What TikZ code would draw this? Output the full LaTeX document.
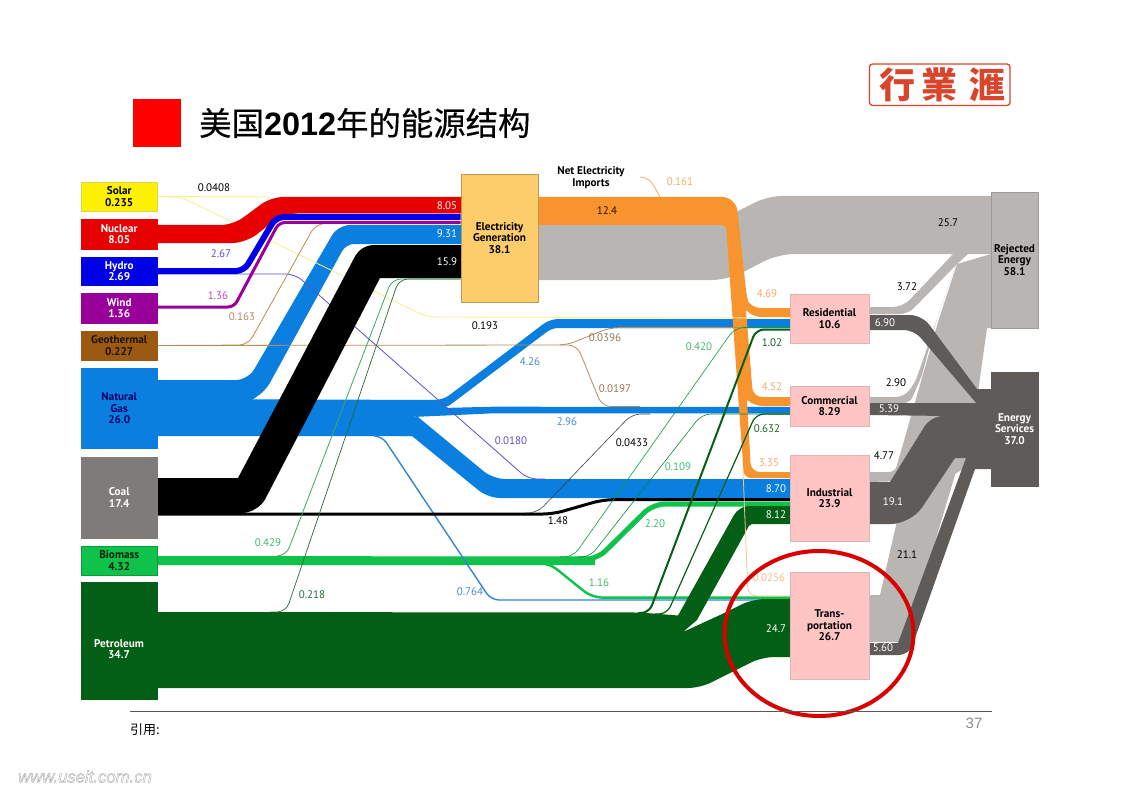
\documentclass[tikz,border=0pt]{standalone}
\usepackage{fontspec}
\setmainfont{PT Sans}
\newfontfamily\cjk{Noto Sans CJK SC}
\newfontfamily\cjktitle[FakeBold=0.4]{Noto Sans CJK SC}
\newfontfamily\cjktc{Noto Sans CJK TC}
\newfontfamily\numfont{Liberation Sans}
\definecolor{cgray}{HTML}{B9B5B2}
\definecolor{cdark}{HTML}{5F5B58}
\definecolor{corange}{HTML}{F7942D}
\definecolor{cblue}{HTML}{0A7FE0}
\definecolor{cgreen}{HTML}{0EC24A}
\definecolor{cpet}{HTML}{045F16}
\definecolor{cred}{HTML}{E60000}
\definecolor{chydro}{HTML}{0000E6}
\definecolor{cwind}{HTML}{990099}
\definecolor{cgeo}{HTML}{9B5A12}
\definecolor{ccoal}{HTML}{7F7B78}
\definecolor{celec}{HTML}{FDCC6B}
\definecolor{cpink}{HTML}{FFC5C5}
\definecolor{cyel}{HTML}{F4F08A}
\definecolor{chthin}{HTML}{5B50C8}
\definecolor{lbrown}{HTML}{B08A60}
\definecolor{lorange}{HTML}{F0AD68}
\definecolor{lgreen}{HTML}{40BC6C}
\definecolor{lblue}{HTML}{4A8AD0}
\definecolor{stamp}{HTML}{D9452A}
\tikzset{
  boxn/.style={draw,inner sep=0pt,align=center,font=\fontsize{11.2}{11.4}\selectfont\bfseries,line width=0.6pt},
  vlab/.style={inner sep=0pt,font=\fontsize{11}{12}\selectfont},
  thin1/.style={line width=0.8pt,rounded corners=9pt},
  stampch/.style={inner sep=0pt,text=stamp,font=\fontsize{36}{38}\selectfont\cjktc\bfseries}
}
\begin{document}
\begin{tikzpicture}[x=1pt,y=-1pt]
\useasboundingbox (0,0) rectangle (1123,794);
\fill[white] (0,0) rectangle (1123,794);

% header
\fill[red] (133,99.5) rectangle (180.5,147);
\node[anchor=west,inner sep=0pt,font=\fontsize{32.4}{34}\selectfont\cjktitle] (title) at (199,123) {美国{\numfont\bfseries 2012}年的能源结构};
\draw[stamp,line width=1.3pt,rounded corners=3pt] (869.5,64) rectangle (1010,105.5);
\node[stampch] (st1) at (897,85) {行};
\node[stampch] (st2) at (939,85) {業};
\node[stampch] (st3) at (987,85) {滙};

% boxes are declared first so that flows can start from them
\path
 node[boxn,minimum width=75.5pt,minimum height=29pt,fill=yellow,draw=yellow!70!gray,text=black] (solar) at (119.2,196.5) {Solar\\0.235}
 node[boxn,minimum width=75.5pt,minimum height=30pt,fill=cred,draw=cred,text=white] (nuclear) at (119.2,234) {Nuclear\\8.05}
 node[boxn,minimum width=75.5pt,minimum height=28.5pt,fill=chydro,draw=chydro,text=white] (hydro) at (119.2,271.2) {Hydro\\2.69}
 node[boxn,minimum width=75.5pt,minimum height=30pt,fill=cwind,draw=cwind,text=white] (wind) at (119.2,308) {Wind\\1.36}
 node[boxn,minimum width=75.5pt,minimum height=29pt,fill=cgeo,draw=cgeo,text=black!80!cgeo] (geo) at (119.2,345.5) {Geothermal\\0.227}
 node[boxn,minimum width=75.5pt,minimum height=80.5pt,fill=cblue,draw=cblue,text=blue!40!black] (gas) at (119.2,408.2) {Natural\\Gas\\26.0}
 node[boxn,minimum width=75.5pt,minimum height=81pt,fill=ccoal,draw=ccoal,text=white] (coal) at (119.2,497.5) {Coal\\17.4}
 node[boxn,minimum width=75.5pt,minimum height=29pt,fill=cgreen,draw=cgreen!80!black,text=black!85!cgreen] (bio) at (119.2,560.5) {Biomass\\4.32}
 node[boxn,minimum width=75.5pt,minimum height=116.5pt,fill=cpet,draw=cpet] (pet) at (119.2,640.7) {}
 node[boxn,minimum width=77pt,minimum height=128pt,fill=celec,draw=celec!75!black,text=black] (elec) at (499.5,238) {Electricity\\Generation\\38.1}
 node[boxn,minimum width=79pt,minimum height=49pt,fill=cpink,draw=cpink!75!gray,text=black] (res) at (829.5,318.5) {Residential\\10.6}
 node[boxn,minimum width=79pt,minimum height=40pt,fill=cpink,draw=cpink!75!gray,text=black] (com) at (829.5,406) {Commercial\\8.29}
 node[boxn,minimum width=79pt,minimum height=86pt,fill=cpink,draw=cpink!75!gray,text=black] (ind) at (829.5,498) {Industrial\\23.9}
 node[boxn,minimum width=79pt,minimum height=107pt,fill=cpink,draw=cpink!75!gray,text=black] (tra) at (829.5,625.5) {Trans-\\portation\\26.7}
 node[boxn,minimum width=47pt,minimum height=136pt,fill=cgray,draw=cgray!85!black,text=black] (rej) at (1014.5,260) {Rejected\\Energy\\58.1}
 node[boxn,minimum width=47pt,minimum height=114pt,fill=cdark,draw=cdark,text=white] (srv) at (1014.5,429) {Energy\\Services\\37.0};
\coordinate (imp) at (640,177);

% rejected energy flows
\fill[cgray] (538,225) -- (733,225) -- (738,211) [rounded corners=14pt] -- (768,196) [sharp corners] -- (991,196) -- (991,254) [rounded corners=16pt] -- (778,254) -- (728,280) [sharp corners] -- (538,280) -- cycle;
\fill[cgray] (869,307) [rounded corners=10pt] -- (903,307) [sharp corners] -- (953,254) -- (968,254) -- (957,264) [rounded corners=8pt] -- (908,314) [sharp corners] -- (869,314) -- cycle;
\fill[cgray] (869,397) [rounded corners=8pt] -- (904,397) -- (915,383) [sharp corners] -- (956,264) -- (936,322) -- (922,375) [rounded corners=6pt] -- (910,403) [sharp corners] -- (869,403) -- cycle;
\fill[cgray] (869,472) [rounded corners=6pt] -- (895,472) [sharp corners] -- (938,322) -- (957,264) -- (991,254) -- (991,328) -- (987,328) -- (978,392) -- (978,460) -- (945,480) -- (869,482) -- cycle;
\fill[cgray] (869,595) -- (880,595) -- (950,290) -- (985,330) -- (975,400) -- (960,458) -- (955,475) -- (905,642) -- (869,642) -- cycle;

% energy services flows
\fill[cdark] (869,315) [rounded corners=12pt] -- (922,315) [sharp corners] -- (977,389) -- (991,389) -- (991,404) -- (977,404) [rounded corners=10pt] -- (914,330) [sharp corners] -- (869,330) -- cycle;
\fill[cdark] (869,403) -- (977,403) -- (991,403) -- (991,420) -- (947,416) -- (869,415) -- cycle;
\fill[cdark] (869,482) -- (890,482) [rounded corners=12pt] -- (931,416) [sharp corners] -- (950,416) -- (991,408) -- (991,458) -- (955,458) [rounded corners=20pt] -- (911,524) [sharp corners] -- (869,524) -- cycle;
\fill[cdark] (869,643) -- (898,643) -- (966,458) -- (991,458) -- (991,469) -- (975,469) [rounded corners=10pt] -- (909,655) [sharp corners] -- (869,655) -- cycle;

% natural gas
\fill[cblue] (157,380) [rounded corners=12pt] -- (248,380) -- (338,225) [sharp corners] -- (461,225) -- (461,244) [rounded corners=8pt] -- (346,244) -- (266,390) [sharp corners] -- (252,400) -- (157,400) -- cycle;
\fill[cblue] (157,399) -- (443,400) -- (446,408) -- (413,417) -- (413,436) -- (157,436) -- cycle;
\fill[cblue] (430,400) [rounded corners=8pt] -- (443,400) -- (550,319) [sharp corners] -- (790,319) -- (790,328) [rounded corners=6pt] -- (552,328) -- (446,408) [sharp corners] -- (440,408) -- cycle;
\fill[cblue] (443,408) -- (493,406.7) -- (790,407) -- (790,413.3) -- (493,413.3) -- (413,417) -- cycle;
\fill[cblue] (413,417) -- (418,417) [rounded corners=12pt] -- (493,479) [sharp corners] -- (790,479) -- (790,498) [rounded corners=12pt] -- (488,498) [sharp corners] -- (412,436) -- (400,436) -- cycle;

% orange
\fill[corange] (538,197) [rounded corners=14pt] -- (736,197) [rounded corners=10pt] -- (747,300) -- (750,308) [sharp corners] -- (790,308) -- (790,317) [rounded corners=7pt] -- (754,317) [sharp corners] -- (746,310) [rounded corners=9pt] -- (753,397) [sharp corners] -- (790,397) -- (790,406) [rounded corners=7pt] -- (756,406) [sharp corners] -- (747,400) [rounded corners=9pt] -- (751,472) [sharp corners] -- (790,472) -- (790,478) [rounded corners=7pt] -- (744,478) [rounded corners=4pt] -- (726,225) [sharp corners] -- (538,225) -- cycle;

% thin flows under the coal band
\draw[cyel,line width=0.9pt] (solar.east) -- (270,197);
\draw[cyel,thin1] (solar.east) -- (181,197) -- (427,317) -- (790,318);
\draw[chthin,thin1] (hydro.east |- 0,274) -- (295,274) -- (528,479) -- (545,479);
\draw[cgeo!70!white,thin1] (geo.east) -- (248,345) -- (316,223.5) -- (340,223.5);
\draw[cgeo!70!white,thin1] (geo.east) -- (567,345) -- (610,327.6) -- (790,327.6);
\draw[cgeo!70!white,thin1] (560,345) -- (577,345) -- (602,406.5) -- (640,406.5);

% nuclear, hydro, wind
\fill[cred] (nuclear.east |- 0,225) [rounded corners=12pt] -- (233,225) -- (271,197) [sharp corners] -- (461,197) -- (461,213.5) [rounded corners=14pt] -- (283,213.5) -- (246,243) [sharp corners] -- (nuclear.east |- 0,243) -- cycle;
\draw[cwind,line width=3pt,rounded corners=6pt] (wind.east |- 0,307) -- (234,307) -- (279,222.5) -- (elec.west |- 0,222.5);
\draw[chydro,line width=6pt,rounded corners=8pt] (hydro.east |- 0,271) -- (244,271) -- (276,217) -- (elec.west |- 0,217);

% biomass and petroleum
\fill[cgreen] (157,556) -- (595,556.5) -- (595,565) -- (157,565) -- cycle;
\draw[cgreen,line width=5pt,rounded corners=12pt] (560,559.3) -- (597,559.3) -- (653,504) -- (790,504);
\draw[cgreen,line width=2.4pt,rounded corners=10pt] (535,563) -- (549,563) -- (592,597.6) -- (790,597.6);
\draw[lblue!60!cblue,line width=1.4pt,rounded corners=8pt] (377,436) -- (382,436) -- (491,600) -- (790,600);

\fill[cpet] (157,612) -- (640,612.5) -- (678,615.5) [rounded corners=10pt] -- (739,506) [sharp corners] -- (790,506) -- (790,524) [rounded corners=2pt] -- (750,524) [sharp corners] -- (697,620) -- (683,632) -- (720,615) [rounded corners=12pt] -- (753,599) [sharp corners] -- (790,599) -- (790,657) [rounded corners=12pt] -- (762,657) -- (700,688) [sharp corners] -- (157,688) -- cycle;

% coal
\fill[black] (157,478) -- (238,478) [rounded corners=12pt] -- (361,245) [sharp corners] -- (461,245) -- (461,278) -- (380,278) [rounded corners=16pt] -- (258,513) [sharp corners] -- (157,513) -- cycle;
\draw[black,line width=3pt,rounded corners=10pt] (157,514) -- (553,514) -- (603,499.7) -- (790,499.7);

% thin flows on top
\draw[lgreen!90!black,thin1] (280,556) -- (286,556) -- (392,279) -- (elec.west |- 0,279);
\draw[cpet!70!gray,line width=0.7pt,rounded corners=9pt] (270,612) -- (286,612) -- (399,279) -- (elec.west |- 0,279);
\draw[cgreen!80!black,line width=0.6pt,rounded corners=9pt] (560,557) -- (573,557) -- (735,327.5) -- (790,327.5);
\draw[cgreen!70!black,line width=0.6pt,rounded corners=9pt] (578,557) -- (590,557) -- (702,414) -- (790,414);
\draw[cpet,line width=2pt,rounded corners=8pt] (638,613) -- (649,613) -- (756,329.5) -- (790,329.5);
\draw[cpet,line width=1.2pt,rounded corners=8pt] (655,614) -- (667,614) -- (756,414) -- (790,414);
\draw[black!75,line width=0.6pt,rounded corners=9pt] (525,513) -- (537,513) -- (632,414) -- (650,414);
\draw[lorange!70!white,line width=0.8pt,rounded corners=9pt] (743,470) -- (748,596) -- (790,596);
\draw[lorange,line width=0.8pt] (imp) .. controls (650,178) and (652,182) .. (660,197);

% boxes once more on top of the flows
\path
 node[boxn,minimum width=75.5pt,minimum height=29pt,fill=yellow,draw=yellow!70!gray,text=black] at (solar) {Solar\\0.235}
 node[boxn,minimum width=75.5pt,minimum height=30pt,fill=cred,draw=cred,text=white] at (nuclear) {Nuclear\\8.05}
 node[boxn,minimum width=75.5pt,minimum height=28.5pt,fill=chydro,draw=chydro,text=white] at (hydro) {Hydro\\2.69}
 node[boxn,minimum width=75.5pt,minimum height=30pt,fill=cwind,draw=cwind,text=white] at (wind) {Wind\\1.36}
 node[boxn,minimum width=75.5pt,minimum height=29pt,fill=cgeo,draw=cgeo,text=black!80!cgeo] at (geo) {Geothermal\\0.227}
 node[boxn,minimum width=75.5pt,minimum height=80.5pt,fill=cblue,draw=cblue,text=blue!40!black] at (gas) {Natural\\Gas\\26.0}
 node[boxn,minimum width=75.5pt,minimum height=81pt,fill=ccoal,draw=ccoal,text=white] at (coal) {Coal\\17.4}
 node[boxn,minimum width=75.5pt,minimum height=29pt,fill=cgreen,draw=cgreen!80!black,text=black!85!cgreen] at (bio) {Biomass\\4.32}
 node[boxn,minimum width=75.5pt,minimum height=116.5pt,fill=cpet,draw=cpet] at (pet) {}
 node[boxn,minimum width=77pt,minimum height=128pt,fill=celec,draw=celec!75!black,text=black] at (elec) {Electricity\\Generation\\38.1}
 node[boxn,minimum width=79pt,minimum height=49pt,fill=cpink,draw=cpink!75!gray,text=black] at (res) {Residential\\10.6}
 node[boxn,minimum width=79pt,minimum height=40pt,fill=cpink,draw=cpink!75!gray,text=black] at (com) {Commercial\\8.29}
 node[boxn,minimum width=79pt,minimum height=86pt,fill=cpink,draw=cpink!75!gray,text=black] at (ind) {Industrial\\23.9}
 node[boxn,minimum width=79pt,minimum height=107pt,fill=cpink,draw=cpink!75!gray,text=black] at (tra) {Trans-\\portation\\26.7}
 node[boxn,minimum width=47pt,minimum height=136pt,fill=cgray,draw=cgray!85!black,text=black] at (rej) {Rejected\\Energy\\58.1}
 node[boxn,minimum width=47pt,minimum height=114pt,fill=cdark,draw=cdark,text=white] at (srv) {Energy\\Services\\37.0};
\node[inner sep=0pt,align=center,text=white,font=\fontsize{11.2}{11.4}\selectfont\bfseries] (petlab) at (119,649) {Petroleum\\34.7};
\node[inner sep=0pt,align=center,font=\fontsize{11.2}{11.4}\selectfont\bfseries] (netimp) at (591,177.5) {Net Electricity\\Imports};

% value labels
\node[vlab] (a1) at (214,188) {0.0408};
\node[vlab,text=white] (a2) at (447,206) {8.05};
\node[vlab,text=white] (a3) at (447,234) {9.31};
\node[vlab,text=white] (a4) at (447,262) {15.9};
\node[vlab,text=chthin] (a5) at (221,254) {2.67};
\node[vlab,text=cwind!70!white] (a6) at (218,296) {1.36};
\node[vlab,text=lbrown] (a7) at (242,317) {0.163};
\node[vlab,text=lgreen] (a8) at (268,543) {0.429};
\node[vlab,text=cpet!70!gray] (a9) at (312,595) {0.218};
\node[vlab,text=lblue] (a10) at (470,592) {0.764};
\node[vlab,text=black!85!corange] (a11) at (607,211) {12.4};
\node[vlab,text=lorange] (a12) at (680,182) {0.161};
\node[vlab] (a13) at (485,326) {0.193};
\node[vlab,text=lbrown!85!black] (a14) at (605,338) {0.0396};
\node[vlab,text=lbrown!85!black] (a15) at (615,389) {0.0197};
\node[vlab,text=lblue] (a16) at (530,362) {4.26};
\node[vlab,text=lblue] (a17) at (567,422) {2.96};
\node[vlab,text=lgreen] (a18) at (699,347) {0.420};
\node[vlab,text=cpet!85!gray] (a19) at (772,343) {1.02};
\node[vlab,text=lorange] (a20) at (767,294) {4.69};
\node[vlab,text=lorange] (a21) at (772,387) {4.52};
\node[vlab,text=cpet!85!gray] (a22) at (767,429) {0.632};
\node[vlab,text=chthin] (a23) at (511,441) {0.0180};
\node[vlab] (a24) at (632,443) {0.0433};
\node[vlab,text=lgreen] (a25) at (678,467) {0.109};
\node[vlab,text=lorange] (a26) at (769,463) {3.35};
\node[vlab,text=white] (a27) at (776,489) {8.70};
\node[vlab,text=white] (a28) at (776,515) {8.12};
\node[vlab] (a29) at (558,521) {1.48};
\node[vlab,text=lgreen] (a30) at (655,524) {2.20};
\node[vlab,text=lgreen] (a31) at (599,583) {1.16};
\node[vlab,text=lorange!80!white] (a32) at (769,578) {0.0256};
\node[vlab,text=white] (a33) at (776,629) {24.7};
\node[vlab] (a34) at (948,223) {25.7};
\node[vlab] (a35) at (907,287) {3.72};
\node[vlab,text=white] (a36) at (885,323) {6.90};
\node[vlab] (a37) at (896,383) {2.90};
\node[vlab,text=white] (a38) at (889,409) {5.39};
\node[vlab] (a39) at (884,456) {4.77};
\node[vlab,text=white] (a40) at (893,502) {19.1};
\node[vlab] (a41) at (907,555) {21.1};
\node[vlab,text=white] (a42) at (883,648) {5.60};

% highlight ellipse and footer
\draw[red!85!black,line width=4pt] (819,633.5) ellipse [x radius=94.5, y radius=82.5];
\draw[black!65,line width=1pt] (130,711) -- (992,711);
\node[anchor=west,inner sep=0pt,font=\fontsize{13}{14}\selectfont\cjk] (cite) at (130,730) {引用:};
\node[inner sep=0pt,text=black!45,font=\fontsize{15}{17}\selectfont\numfont] (pageno) at (974,723.5) {37};
\node[anchor=west,inner sep=0pt,text=black!35,font=\fontsize{16.7}{18}\selectfont\numfont\itshape] (wm) at (18,776.5) {\special{pdf:code 1 Tr 0.4 w}www.useit.com.cn\special{pdf:code 0 Tr}};
\end{tikzpicture}
\end{document}
